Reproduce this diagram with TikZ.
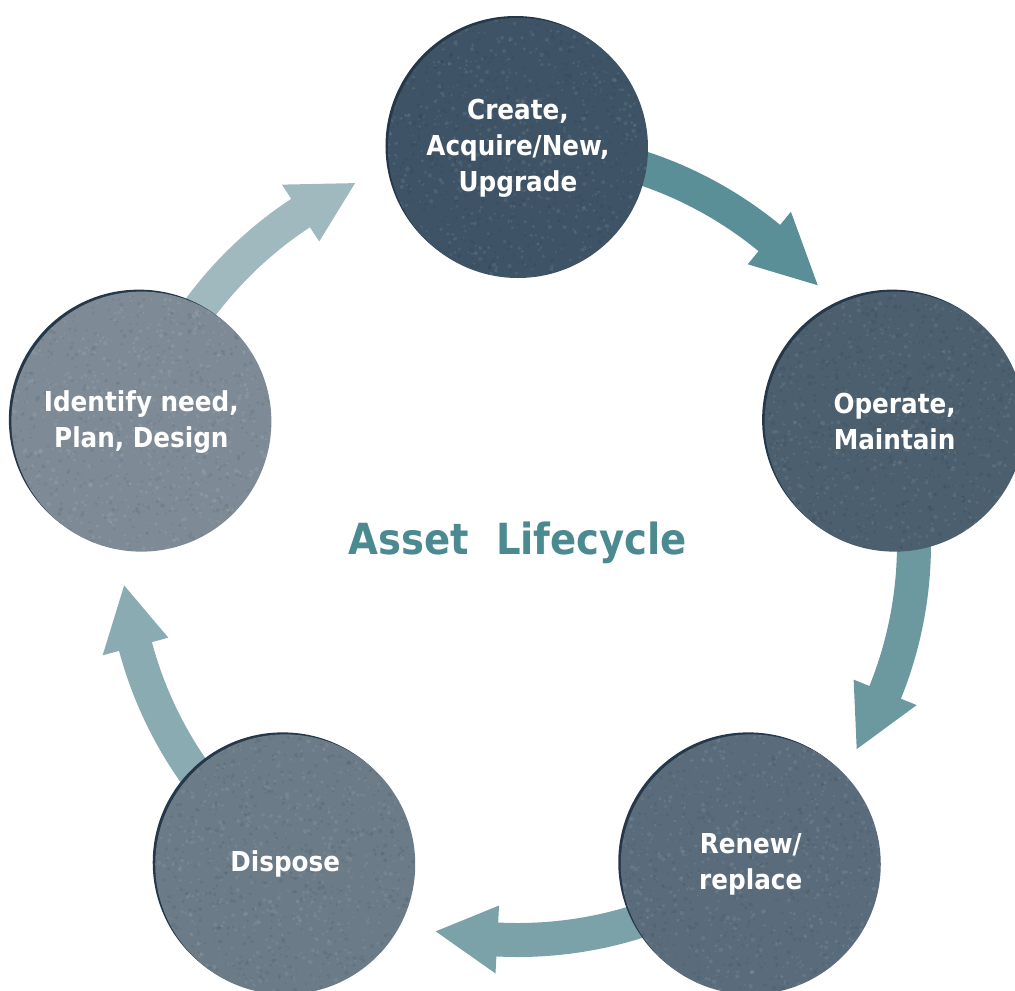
\documentclass[tikz,border=0pt]{standalone}
\usepackage{fontspec}
\usetikzlibrary{calc}
\IfFontExistsTF{DejaVu Sans Condensed}
  {\newfontfamily\labelfont{DejaVu Sans Condensed}}
  {\newfontfamily\labelfont{Open Sans}}
\definecolor{cCreate}{HTML}{3E5466}
\definecolor{cOperate}{HTML}{4B5F6F}
\definecolor{cRenew}{HTML}{5A6C7B}
\definecolor{cDispose}{HTML}{6B7B88}
\definecolor{cIdentify}{HTML}{7E8B96}
\definecolor{cRim}{HTML}{25384A}
\definecolor{aOne}{HTML}{5B8F97}
\definecolor{aTwo}{HTML}{6C989F}
\definecolor{aThree}{HTML}{7BA2A8}
\definecolor{aFour}{HTML}{8AABB1}
\definecolor{aFive}{HTML}{A0B9BE}
\definecolor{titleTeal}{HTML}{4A8A90}

% curved block arrow along the ring (radius 396): start angle, head base angle, tip angle, colour
\newcommand{\ringarrow}[4]{%
  \fill[#4] (#1:413) arc[start angle=#1, end angle=#2, radius=413]
    -- (#2:430) -- (#3:396) -- (#2:362) -- (#2:379)
    arc[start angle=#2, end angle=#1, radius=379] -- cycle;}

% grainy disc of a stage: angle on the ring, fill colour
\newcommand{\stagedisc}[2]{%
  \fill[cRim] ($(#1:396)+(-2.5,2)$) circle (130);
  \fill[#2] (#1:396) circle (130);
  \begin{scope}
    \clip (#1:396) circle (130);
    \foreach \i in {1,...,700} {
      \fill[white, opacity=0.07] ($(#1:396)+(rand*130,rand*130)$) circle ({0.8+1.4*rnd});
      \fill[black, opacity=0.06] ($(#1:396)+(rand*130,rand*130)$) circle ({0.8+1.4*rnd});
    }
  \end{scope}}

\begin{document}
\begin{tikzpicture}[x=0.01cm, y=0.01cm,
  stage/.style={circle, minimum size=2.6cm, inner sep=0pt, text=white,
    align=center, font=\labelfont\bfseries\fontsize{7.8pt}{10.2pt}\selectfont}]
\useasboundingbox (-518,-446) rectangle (497,544);
\clip (-518,-446) rectangle (497,544);
\pgfmathsetseed{4711}

% arrows first, so that the discs cover their tails
\ringarrow{80}{50.6}{40.8}{aOne}
\ringarrow{8}{-22}{-31.2}{aTwo}
\ringarrow{-64}{-93}{-102}{aThree}
\ringarrow{-136}{-165}{-174}{aFour}
\ringarrow{152}{123.3}{114.3}{aFive}

\stagedisc{90}{cCreate}
\stagedisc{18}{cOperate}
\stagedisc{-54}{cRenew}
\stagedisc{-126}{cDispose}
\stagedisc{162}{cIdentify}

\node[stage] (create)   at (90:396)   {Create,\\Acquire/New,\\Upgrade};
\node[stage] (operate)  at (18:396)   {Operate,\\Maintain};
\node[stage] (renew)    at (-54:396)  {Renew/\\replace};
\node[stage] (dispose)  at (-126:396) {Dispose};
\node[stage] (identify) at (162:396)  {Identify need,\\Plan,~Design};

\node[text=titleTeal, font=\labelfont\bfseries\fontsize{12.2pt}{15pt}\selectfont]
  (title) at (0,1) {Asset~~Lifecycle};
\end{tikzpicture}
\end{document}
